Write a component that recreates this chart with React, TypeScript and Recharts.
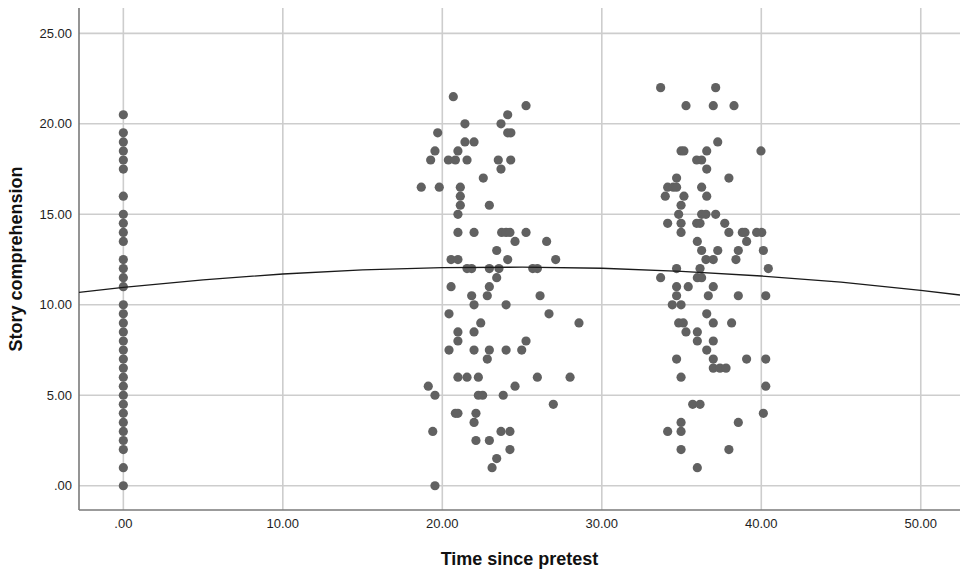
import React from 'react';
import {
    ScatterChart,
    Scatter,
    XAxis,
    YAxis,
    CartesianGrid,
    Label,
} from 'recharts';

// Pretest (time = 0): story comprehension scores
const pretestScores = [
    20.5, 19.5, 19, 18.5, 18, 17.5, 16, 15, 14.5, 14, 13.5, 12.5, 12, 11.5, 11,
    10, 9.5, 9, 8.5, 8, 7.5, 7, 6.5, 6, 5.5, 5, 4.5, 4, 3.5, 3, 2.5, 2, 1, 0,
];

// Second session: [time since pretest, score]
const secondSession: [number, number][] = [
    [20.69, 21.5], [25.25, 21], [24.1, 20.5], [21.42, 20], [23.68, 20], [19.71, 19.5],
    [24.1, 19.5], [24.3, 19.5], [21.42, 19], [21.99, 19], [19.54, 18.5], [20.98, 18.5],
    [19.27, 18], [20.38, 18], [20.82, 18], [21.55, 18], [23.51, 18], [24.29, 18],
    [23.68, 17.5], [22.57, 17], [18.68, 16.5], [19.81, 16.5], [21.13, 16.5], [21.13, 16],
    [21.13, 15.5], [22.95, 15.5], [20.98, 15], [20.98, 14], [21.99, 14], [23.72, 14],
    [24.0, 14], [24.24, 14], [25.25, 14], [24.56, 13.5], [26.54, 13.5], [23.41, 13],
    [20.55, 12.5], [20.98, 12.5], [24.1, 12.5], [27.11, 12.5], [21.55, 12], [21.84, 12],
    [22.95, 12], [23.55, 12], [25.67, 12], [25.96, 12], [23.41, 11.5], [20.55, 11],
    [22.95, 11], [21.84, 10.5], [22.82, 10.5], [26.13, 10.5], [21.99, 10], [24.0, 10],
    [20.42, 9.5], [26.69, 9.5], [22.41, 9], [28.57, 9], [20.98, 8.5], [21.99, 8.5],
    [20.98, 8], [25.25, 8], [20.42, 7.5], [21.99, 7.5], [22.95, 7.5], [24.0, 7.5],
    [24.98, 7.5], [22.82, 7], [20.98, 6], [21.55, 6], [22.26, 6], [25.96, 6],
    [28.01, 6], [19.12, 5.5], [24.56, 5.5], [19.54, 5], [22.26, 5], [22.53, 5],
    [23.82, 5], [26.96, 4.5], [20.82, 4], [20.98, 4], [22.11, 4], [21.99, 3.5],
    [19.4, 3], [23.68, 3], [24.24, 3], [22.11, 2.5], [22.95, 2.5], [24.24, 2],
    [23.41, 1.5], [23.12, 1], [19.54, 0],
];

// Third session: [time since pretest, score]
const thirdSession: [number, number][] = [
    [33.69, 22], [37.14, 22], [35.28, 21], [36.99, 21], [38.29, 21], [37.27, 19],
    [34.97, 18.5], [35.15, 18.5], [36.58, 18.5], [39.98, 18.5], [35.95, 18], [36.26, 18],
    [36.58, 17.5], [37.97, 17], [34.69, 17], [34.13, 16.5], [34.48, 16.5], [34.69, 16.5],
    [36.26, 16.5], [33.98, 16], [35.15, 16], [36.58, 16], [34.97, 15.5], [34.82, 15],
    [36.26, 15], [36.53, 15], [37.14, 15], [34.13, 14.5], [34.97, 14.5], [35.95, 14.5],
    [36.16, 14.5], [37.71, 14.5], [34.97, 14], [37.97, 14], [38.81, 14], [38.98, 14],
    [39.71, 14], [40.03, 14], [39.08, 13.5], [35.99, 13.5], [36.26, 13], [37.27, 13],
    [38.56, 13], [40.13, 13], [36.53, 12.5], [36.99, 12.5], [38.41, 12.5], [34.69, 12],
    [36.16, 12], [40.44, 12], [33.69, 11.5], [35.99, 11.5], [36.26, 11.5], [34.69, 11],
    [35.42, 11], [36.99, 11], [34.69, 10.5], [36.68, 10.5], [38.56, 10.5], [40.28, 10.5],
    [34.42, 10], [34.97, 10], [36.58, 9.5], [34.82, 9], [35.11, 9], [36.99, 9],
    [38.14, 9], [35.28, 8.5], [35.99, 8.5], [35.99, 8], [36.99, 8], [36.58, 7.5],
    [34.69, 7], [36.99, 7], [39.08, 7], [40.28, 7], [36.99, 6.5], [37.41, 6.5],
    [37.79, 6.5], [34.97, 6], [40.28, 5.5], [35.7, 4.5], [36.16, 4.5], [40.13, 4],
    [34.97, 3.5], [38.56, 3.5], [34.13, 3], [34.97, 3], [34.97, 2], [37.97, 2],
    [35.99, 1],
];

// Quadratic fit line
const fitTimes = [-2.78, 0, 5, 10, 15, 20, 25, 30, 35, 40, 45, 50, 52.46];
const fitScores = [10.69, 10.96, 11.38, 11.7, 11.93, 12.05, 12.08, 12.02, 11.85, 11.59, 11.25, 10.8, 10.54];

const xTicks = [0, 10, 20, 30, 40, 50];
const yTicks = [0, 5, 10, 15, 20, 25];

const FONT = '"Liberation Sans", Arial, sans-serif';
const DOT = '#616161';

const fmt = (v: number) => (v === 0 ? '.00' : v.toFixed(2));

const App: React.FC = () => {
    const points = [
        ...pretestScores.map((y) => ({ x: 0, y })),
        ...secondSession.map(([x, y]) => ({ x, y })),
        ...thirdSession.map(([x, y]) => ({ x, y })),
    ];
    const fit = fitTimes.map((x, i) => ({ x, y: fitScores[i] }));

    const dot = (props: any) => (
        <circle cx={props.cx} cy={props.cy} r={4.6} fill={DOT} />
    );

    return (
        <div style={{ position: 'absolute', left: 0, top: 0, background: '#fff' }}>
            <ScatterChart
                width={960}
                height={571}
                margin={{ top: 8, right: 0, bottom: 0, left: 0 }}
                style={{ fontFamily: FONT }}
            >
                <CartesianGrid
                    stroke="#cdcdcd"
                    strokeWidth={1.6}
                    horizontalValues={yTicks}
                    verticalValues={xTicks}
                />
                <XAxis
                    type="number"
                    dataKey="x"
                    domain={[-2.78, 52.46]}
                    allowDataOverflow
                    ticks={xTicks}
                    tickFormatter={fmt}
                    tickLine={false}
                    tickMargin={3}
                    height={61}
                    stroke="#7a7a7a"
                    strokeWidth={1.6}
                    tick={{ fill: '#1e1e1e', fontSize: 13 }}
                >
                    <Label
                        content={({ viewBox }: any) => (
                            <text
                                x={viewBox.x + viewBox.width / 2}
                                y={565}
                                textAnchor="middle"
                                fontSize={18}
                                fontWeight="bold"
                                fill="#111"
                            >
                                Time since pretest
                            </text>
                        )}
                    />
                </XAxis>
                <YAxis
                    type="number"
                    dataKey="y"
                    domain={[-1.34, 26.4]}
                    allowDataOverflow
                    ticks={yTicks}
                    tickFormatter={fmt}
                    tickLine={false}
                    tickMargin={1}
                    width={79}
                    stroke="#7a7a7a"
                    strokeWidth={1.6}
                    tick={{ fill: '#1e1e1e', fontSize: 13 }}
                >
                    <Label
                        content={({ viewBox }: any) => {
                            const cy = viewBox.y + viewBox.height / 2;
                            return (
                                <text
                                    x={22}
                                    y={cy}
                                    transform={`rotate(-90, 22, ${cy})`}
                                    textAnchor="middle"
                                    fontSize={18}
                                    fontWeight="bold"
                                    fill="#111"
                                >
                                    Story comprehension
                                </text>
                            );
                        }}
                    />
                </YAxis>
                <Scatter data={points} shape={dot} isAnimationActive={false} />
                <Scatter
                    data={fit}
                    line={{ stroke: '#1a1a1a', strokeWidth: 1.3 }}
                    lineType="joint"
                    shape={() => <g />}
                    isAnimationActive={false}
                />
            </ScatterChart>
        </div>
    );
};

export default App;
